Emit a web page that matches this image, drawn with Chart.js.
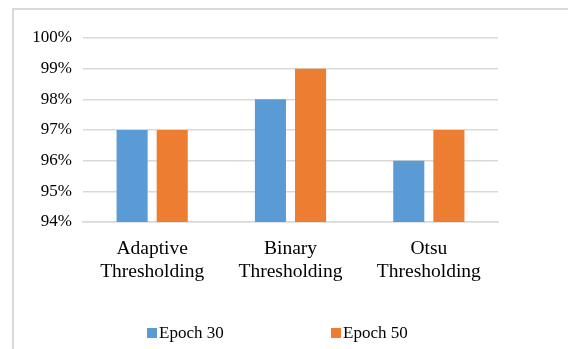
<!DOCTYPE html>
<html>
<head>
<meta charset="utf-8">
<script src="https://cdn.jsdelivr.net/npm/chart.js@4/dist/chart.umd.min.js"></script>
<style>
  html, body { margin: 0; padding: 0; background: #fff; width: 568px; height: 349px; overflow: hidden; }
  #frame { position: absolute; left: 12px; top: 8px; width: 600px; height: 400px; border: 2px solid #d9d9d9; box-sizing: border-box; }
  #wrap { position: absolute; left: 0; top: 0; width: 568px; height: 349px; }
  #legend { position: absolute; top: 323px; left: 0; width: 568px; height: 20px; font-family: 'Liberation Serif', 'Times New Roman', serif; font-size: 17px; color: #000; }
  .item { position: absolute; top: 0; display: flex; align-items: center; height: 20px; white-space: nowrap; }
  .sw { width: 10px; height: 10px; margin-right: 2px; }
</style>
</head>
<body>
<div id="frame"></div>
<div id="wrap"><canvas id="c" width="568" height="349"></canvas></div>
<div id="legend"></div>
<script>
const categories = [["Adaptive", "Thresholding"], ["Binary", "Thresholding"], ["Otsu", "Thresholding"]];
const seriesNames = ["Epoch 30", "Epoch 50"];
const epoch30 = [97, 98, 96];
const epoch50 = [97, 99, 97];
const seriesColors = ["#5B9BD5", "#ED7D31"];
const yMin = 94, yMax = 100, yStep = 1;

const FONT = "'Liberation Serif', 'Times New Roman', serif";

const chart = new Chart(document.getElementById('c'), {
  type: 'bar',
  data: {
    labels: categories,
    datasets: [
      { label: seriesNames[0], data: epoch30, backgroundColor: seriesColors[0] },
      { label: seriesNames[1], data: epoch50, backgroundColor: seriesColors[1] }
    ]
  },
  options: {
    responsive: false,
    animation: false,
    devicePixelRatio: 1,
    layout: { padding: { top: 38, right: 70, left: 0, bottom: 47 } },
    datasets: { bar: { categoryPercentage: 0.58, barPercentage: 0.775 } },
    plugins: { legend: { display: false }, tooltip: { enabled: false } },
    scales: {
      x: {
        grid: { display: false, drawTicks: false },
        border: { display: true, color: '#d9d9d9', width: 1.5 },
        ticks: { padding: 15, color: '#000', font: { family: FONT, size: 19.5, lineHeight: 1.2 }, maxRotation: 0, autoSkip: false },
        afterFit: (s) => { s.height = 80; }
      },
      y: {
        min: yMin, max: yMax,
        grid: { color: '#d9d9d9', lineWidth: 1.5, drawTicks: false },
        border: { display: false },
        ticks: { stepSize: yStep, padding: 11, color: '#000', font: { family: FONT, size: 17 }, callback: (v) => v + '%' },
        afterFit: (s) => { s.width = 83; }
      }
    }
  }
});

// HTML legend built from the datasets
const lg = document.getElementById('legend');
const lefts = [147, 331];
chart.data.datasets.forEach((ds, i) => {
  const it = document.createElement('div');
  it.className = 'item';
  it.style.left = lefts[i] + 'px';
  const sw = document.createElement('div');
  sw.className = 'sw';
  sw.style.background = ds.backgroundColor;
  const tx = document.createElement('span');
  tx.textContent = ds.label;
  it.appendChild(sw); it.appendChild(tx);
  lg.appendChild(it);
});
</script>
</body>
</html>
